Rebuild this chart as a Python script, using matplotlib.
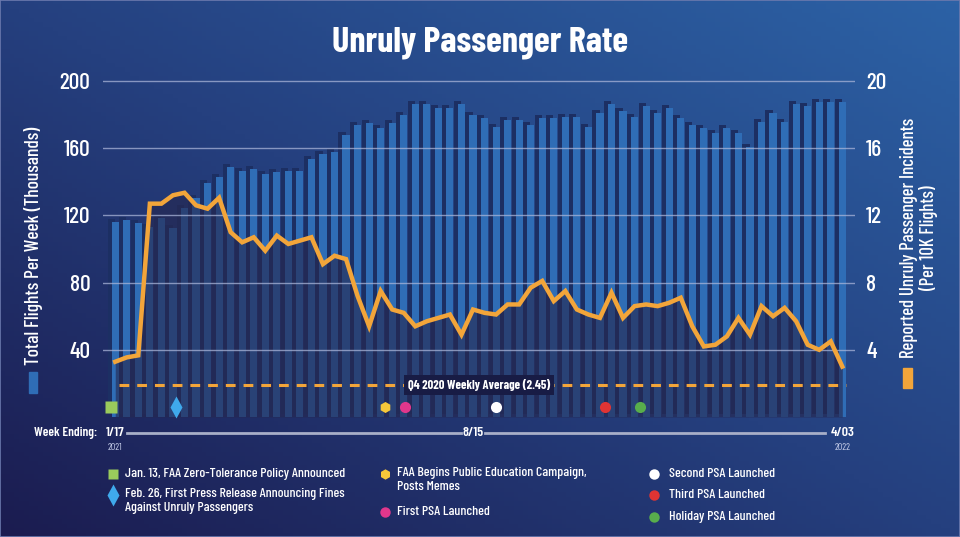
# -*- coding: utf-8 -*-
''' Unruly passenger rate: weekly flights (bars) and incident rate (line) '''
import numpy as np
import matplotlib
matplotlib.use('Agg')
import matplotlib.pyplot as plt
import matplotlib.transforms as mtrans
from matplotlib import font_manager as fm
from matplotlib.colors import LinearSegmentedColormap
from matplotlib.patches import Rectangle

# pick a condensed family that is installed
have = set(f.name for f in fm.fontManager.ttflist)
NARROW = 'DejaVu Sans'
for name in ['Barlow Condensed', 'Roboto Condensed', 'Fira Sans Condensed', 'Archivo Narrow']:
    if name in have:
        NARROW = name
        break
plt.rcParams['font.family'] = [NARROW, 'DejaVu Sans']

# weeks ending 1/17/2021 ... 4/03/2022
weeks = np.arange(64)
# total flights per week (thousands)
flights = [116.3, 117.3, 115.3, 113.3, 118.3, 112.3, 124.6, 130.2, 139.5, 142.7,
           148.8, 146.6, 147.6, 144.6, 145.6, 146.6, 146.6, 153.8, 156.8, 157.7,
           167.9, 173.8, 175.0, 171.8, 175.0, 180.0, 186.1, 186.1, 184.1, 184.1,
           186.1, 180.0, 177.8, 172.8, 176.8, 176.8, 173.8, 177.8, 177.8, 178.8,
           178.8, 172.8, 180.7, 186.1, 182.1, 178.8, 185.1, 180.7, 183.7, 177.8,
           173.8, 171.8, 168.8, 171.8, 168.8, 160.9, 175.8, 181.1, 175.8, 186.1,
           185.1, 187.7, 187.7, 187.7]
# reported unruly passenger incidents per 10K flights
incidents = [3.29, 3.55, 3.67, 12.7, 12.7, 13.2, 13.35, 12.6, 12.4, 13.05,
             11.0, 10.4, 10.7, 9.9, 10.8, 10.3, 10.5, 10.7, 9.1, 9.6,
             9.4, 7.2, 5.4, 7.5, 6.4, 6.2, 5.4, 5.7, 5.9, 6.1,
             4.9, 6.4, 6.2, 6.1, 6.7, 6.7, 7.7, 8.1, 6.9, 7.5,
             6.4, 6.1, 5.9, 7.4, 5.9, 6.6, 6.7, 6.6, 6.8, 7.1,
             5.4, 4.2, 4.3, 4.8, 5.9, 4.9, 6.6, 6.0, 6.5, 5.7,
             4.3, 4.0, 4.5, 3.0]
q4_avg_label = 'Q4 2020 Weekly Average (2.45)'
q4_avg_level = 1.9   # where the dashed line sits in the picture

left_ticks = [40, 80, 120, 160, 200]
right_ticks = [4, 8, 12, 16, 20]

# events (position in weeks from 1/17/2021)
event_pos = [-0.35, 5.3, 23.4, 25.1, 33.0, 42.4, 45.5]
event_marker = ['s', 'd', 'h', 'o', 'o', 'o', 'o']
event_color = ['#9acb5c', '#3fa9ec', '#f6c83a', '#e0378c', '#ffffff', '#e03434', '#58ad4c']
event_text = ['Jan. 13, FAA Zero-Tolerance Policy Announced',
              'Feb. 26, First Press Release Announcing Fines\nAgainst Unruly Passengers',
              'FAA Begins Public Education Campaign,\nPosts Memes',
              'First PSA Launched',
              'Second PSA Launched',
              'Third PSA Launched',
              'Holiday PSA Launched']

xtick_pos = [0, 31, 63]
xtick_labels = ['1/17', '8/15', '4/03']
year_labels = ['2021', '', '2022']

W, H = 960, 537
fig = plt.figure(figsize=(W / 100, H / 100), dpi=100)

# background gradient
bg = fig.add_axes([0, 0, 1, 1], zorder=-10)
gx, gy = np.meshgrid(np.linspace(0, 1, 200), np.linspace(1, 0, 120))
grad = (gx + gy) / 2
cmap = LinearSegmentedColormap.from_list('bg', ['#1b1c50', '#25407f', '#2c62a6'])
bg.imshow(grad, cmap=cmap, extent=[0, 1, 0, 1], aspect='auto', vmin=0, vmax=1)
bg.set_xlim(0, 1)
bg.set_ylim(0, 1)
bg.set_axis_off()
fig.patches.append(Rectangle((0, 0), 1, 1, transform=fig.transFigure,
                             fill=False, edgecolor='#6c7aae', lw=1.2))


def px(x, y):
    # pixel position -> figure fraction
    return x / W, 1 - y / H


ax = fig.add_axes([103 / W, (H - 417) / H, 752 / W, 342 / H])
ax.patch.set_alpha(0)
ax.set_xlim(-1.06, 64.1)
ax.set_ylim(0, 203.6)
for s in ax.spines.values():
    s.set_visible(False)

# bar shadows (shifted up-left) then bars
shadow = mtrans.offset_copy(ax.transData, fig=fig, x=-4, y=3, units='dots')
ax.bar(weeks, flights, width=0.62, color='#1c2f63', transform=shadow, zorder=1)
ax.bar(weeks, flights, width=0.62, color='#2f6db6', zorder=2)
ax.set_xticks([])
ax.set_yticks(left_ticks)
ax.tick_params(axis='y', length=0, pad=9, labelsize=17, labelcolor='white')

ax2 = ax.twinx()
ax2.set_ylim(0, 20.36)
for s in ax2.spines.values():
    s.set_visible(False)
ax2.set_yticks(right_ticks)
ax2.tick_params(axis='y', length=0, pad=8, labelsize=17, labelcolor='white')
for lab in ax.get_yticklabels() + ax2.get_yticklabels():
    lab.set_fontweight('medium')

for v in right_ticks:
    ax2.axhline(v, color='#a9b4d8', lw=1, alpha=0.75, zorder=2)

# dark area under the incident line
ax2.fill_between(weeks, 0, incidents, color='#262850', alpha=0.62, lw=0, zorder=1)
ax2.plot(weeks, incidents, color='#f2a53a', lw=3.2, solid_joinstyle='miter', zorder=4)

# Q4 2020 average
ax2.hlines(q4_avg_level, 0.3, 63.3, color='#f2a53a', lw=2.2,
           linestyles=(0, (3.2, 2.6)), zorder=3)
ax2.text(31.5, q4_avg_level, q4_avg_label, color='white', fontsize=9,
         fontweight='bold', ha='center', va='center', zorder=5,
         bbox=dict(facecolor='#181c45', edgecolor='none', pad=3))

# event markers along the bottom
ev_tr = mtrans.blended_transform_factory(ax2.transData, ax2.transAxes)
for p, m, c in zip(event_pos, event_marker, event_color):
    ms = 11 if m == 'd' else 8
    ax2.plot([p], [0.03], marker=m, color=c, ms=ms, mec='none',
             transform=ev_tr, zorder=6, clip_on=False)

# x axis row
xr = mtrans.blended_transform_factory(ax.transData, fig.transFigure)
yrow = 1 - 433 / H
for p, lab, yr in zip(xtick_pos, xtick_labels, year_labels):
    ax.text(p, yrow, lab, transform=xr, color='white', fontsize=10,
            fontweight='semibold', ha='center', va='center')
    if yr:
        ax.text(p, 1 - 447 / H, yr, transform=xr, color='#c8d0ec', fontsize=7,
                ha='center', va='center')
for a, b in [(xtick_pos[0] + 1.0, xtick_pos[1] - 1.0), (xtick_pos[1] + 1.0, xtick_pos[2] - 1.5)]:
    ax.plot([a, b], [yrow, yrow], transform=xr, color='#a8afc8', lw=2, clip_on=False)
fig.text(*px(66, 433), 'Week Ending:', color='white', fontsize=9.5,
         fontweight='semibold', ha='center', va='center')

# title and axis labels
fig.text(*px(480, 43), 'Unruly Passenger Rate', color='white', fontsize=26,
         fontweight='bold', ha='center', va='center')
fig.text(*px(33.5, 246), 'Total Flights Per Week (Thousands)', color='white',
         fontsize=14, fontweight='medium', rotation=90, ha='center', va='center')
fig.patches.append(Rectangle(px(29, 393), 8 / W, 21 / H, transform=fig.transFigure,
                             color='#2f6db6'))
fig.text(*px(919, 238), 'Reported Unruly Passenger Incidents\n(Per 10K Flights)',
         color='white', fontsize=13.5, fontweight='medium', rotation=90,
         ha='center', va='center', multialignment='center', linespacing=1.05)
fig.patches.append(Rectangle(px(903, 388), 9 / W, 20 / H, transform=fig.transFigure,
                             color='#f2a53a'))

# legend
leg_mark = [(113, 474), (113, 495), (385, 474), (385, 512), (654, 474), (654, 495), (654, 517)]
leg_text_x = [125, 125, 397, 397, 669, 669, 669]
for (mx, my), tx, m, c, t in zip(leg_mark, leg_text_x, event_marker, event_color, event_text):
    fx, fy = px(mx, my)
    ms = 11 if m == 'd' else 7.5
    bg.plot([fx], [fy], marker=m, color=c, ms=ms, mec='none')
    if '\n' in t:
        fig.text(tx / W, fy + 7 / H, t, color='white', fontsize=10,
                 fontweight='medium', ha='left', va='top', linespacing=1.2)
    else:
        fig.text(tx / W, fy, t, color='white', fontsize=10,
                 fontweight='medium', ha='left', va='center')

fig.savefig('out.png', dpi=100)
